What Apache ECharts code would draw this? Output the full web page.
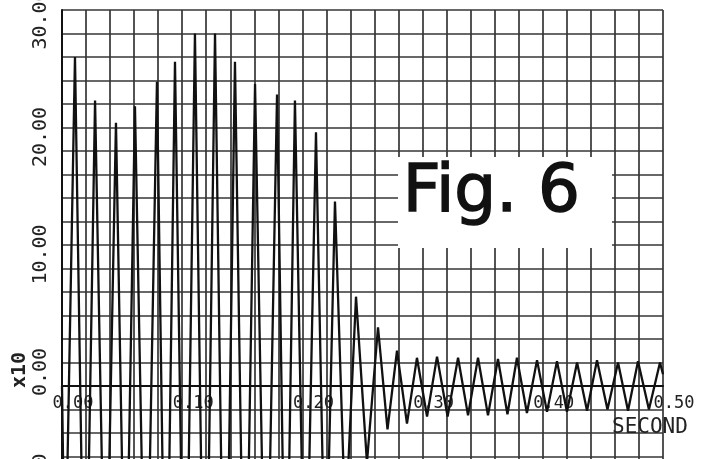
<!DOCTYPE html>
<html>
<head>
<meta charset="utf-8">
<script src="https://cdn.jsdelivr.net/npm/echarts@6/dist/echarts.min.js"></script>
<style>html,body{margin:0;padding:0;background:#fff;}#c{width:708px;height:459px;}</style>
</head>
<body>
<div id="c"></div>
<script>
// Extremes of the trace (time in seconds, value in units of x10)
const peakTimes = [0.0108,0.0275,0.0449,0.0607,0.0790,0.0940,0.1106,0.1273,0.1439,0.1606,0.1789,0.1938,0.2113,0.2271,0.2446,0.2629,0.2787,0.2953,0.3120,0.3295,0.3461,0.3627,0.3785,0.3952,0.4118,0.4285,0.4451,0.4626,0.4792,0.4975];
const peakValues = [28.0,24.3,22.4,23.8,25.9,27.6,30.0,30.0,27.6,25.7,24.8,24.3,21.6,15.7,7.6,5.0,3.0,2.4,2.5,2.4,2.4,2.3,2.4,2.2,2.1,2.0,2.2,2.0,2.1,2.0];
const troughTimes = [0.0025,0.0192,0.0362,0.0528,0.0698,0.0865,0.1023,0.1190,0.1356,0.1522,0.1697,0.1863,0.2025,0.2192,0.2358,0.2537,0.2708,0.2870,0.3037,0.3208,0.3378,0.3544,0.3706,0.3868,0.4035,0.4201,0.4368,0.4538,0.4709,0.4883];
const troughValues = [-18,-26,-23,-23,-25,-27,-29,-30,-29,-27,-25,-24.5,-23,-19,-12,-6.5,-3.7,-3.2,-2.6,-2.6,-2.5,-2.5,-2.4,-2.3,-2.2,-2.2,-2.1,-2.0,-2.1,-2.0];
const startPoint = [0, 0];
const endPoint = [0.5, 1.0];
const yLabelValues = [-30,-20,-10,0,10,20,30];
const xLabelValues = [0,0.1,0.2,0.3,0.4,0.5];
const figTitle = 'Fig. 6';
const xName = 'SECOND';
const yScale = 'x10';

const pts = [startPoint];
peakTimes.forEach((t,i)=>pts.push([t,peakValues[i]]));
troughTimes.forEach((t,i)=>pts.push([t,troughValues[i]]));
pts.push(endPoint);
pts.sort((a,b)=>a[0]-b[0]);

const yMin = -32, yMax = 32;
const gridTop = 10, gridHeight = 752;
// place the x axis on the zero line of the y scale
const zeroOffset = -gridHeight * (0 - yMin) / (yMax - yMin);

const chart = echarts.init(document.getElementById('c'), null, {renderer:'canvas'});
const gridColor = '#363636';
chart.setOption({
  animation:false,
  backgroundColor:'#fff',
  grid:{left:62, top:gridTop, width:601, height:gridHeight, containLabel:false, outerBoundsMode:'none'},
  xAxis:{
    type:'value', min:0, max:0.5, interval:0.02,
    position:'bottom', offset:zeroOffset,
    axisLine:{onZero:false, lineStyle:{color:'#111', width:2}},
    axisTick:{show:false},
    splitLine:{show:true, lineStyle:{color:gridColor, width:1.7}},
    axisLabel:{
      show:true, margin:9, color:'#222',
      fontFamily:'DejaVu Sans Mono', fontSize:17,
      padding:[0,0,0,22],
      formatter:function(v){
        for (const x of xLabelValues) if (Math.abs(v-x)<1e-9) return x.toFixed(2);
        return '';
      }
    }
  },
  yAxis:{
    type:'value', min:yMin, max:yMax, interval:2,
    axisLine:{show:true, onZero:false, lineStyle:{color:'#111', width:2}},
    axisTick:{show:false},
    splitLine:{show:true, lineStyle:{color:gridColor, width:1.7}},
    axisLabel:{
      show:true, rotate:90, margin:11, color:'#222',
      fontFamily:'DejaVu Sans Mono', fontSize:20,
      padding:[0,0,0,28],
      formatter:function(v){
        for (const y of yLabelValues) if (Math.abs(v-y)<1e-9) return y.toFixed(2);
        return '';
      }
    }
  },
  graphic:[
    {type:'rect', z:50, shape:{x:398, y:157, width:214, height:91}, style:{fill:'#fff'}},
    {type:'text', z:60, left:402, top:160, style:{text:figTitle, font:'66px "DejaVu Sans"', fill:'#111', stroke:'#111', lineWidth:1.5}},
    {type:'text', z:60, x:612, y:417, style:{text:xName, font:'21px "DejaVu Sans Mono"', fill:'#222'}},
    {type:'text', z:60, x:30, y:388, rotation:Math.PI/2, style:{text:yScale, font:'bold 20px "DejaVu Sans Mono"', fill:'#222', textAlign:'left', textVerticalAlign:'bottom'}}
  ],
  series:[{
    type:'line', data:pts, showSymbol:false, clip:true, z:10,
    lineStyle:{color:'#111', width:2.3}
  }]
});
</script>
</body>
</html>
